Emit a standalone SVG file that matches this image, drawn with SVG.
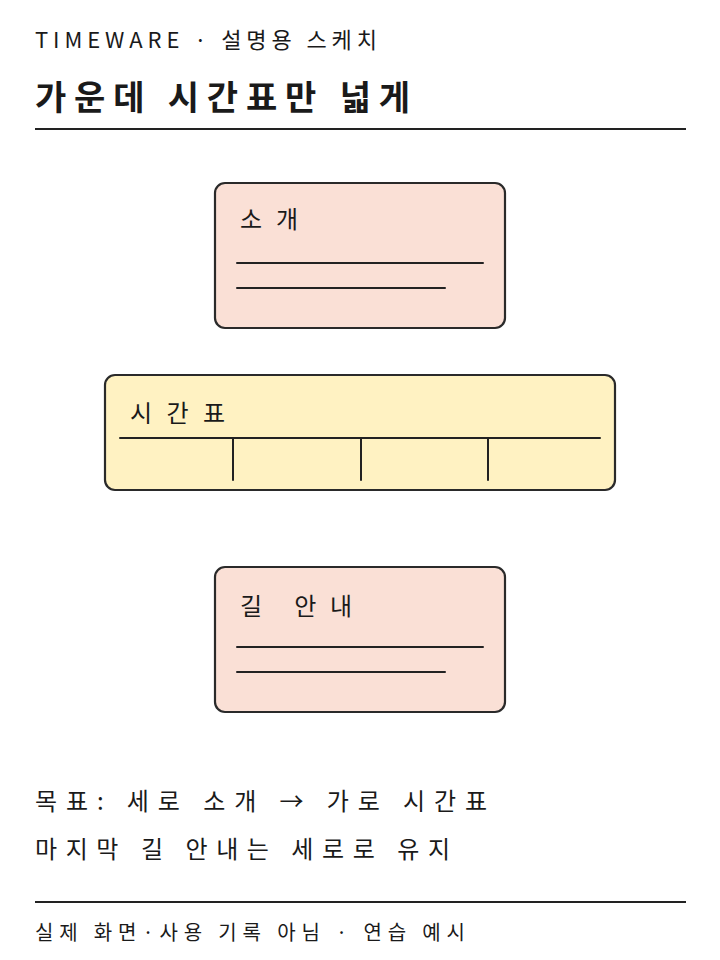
<svg xmlns="http://www.w3.org/2000/svg" width="720" height="960" viewBox="0 0 720 960">
<style>
text{font-family:"Noto Sans CJK KR","Noto Sans",sans-serif;fill:#1a1a1a}
.box{stroke:#2a2a2a;stroke-width:2.2}
.peach{fill:#fae0d6}
.yellow{fill:#fff2c2}
.ln{stroke:#222;stroke-width:2;fill:none;stroke-linecap:round}
.rule{stroke:#222;stroke-width:2}
.t{font-size:24px}
</style>
<rect width="720" height="960" fill="#ffffff"/>
<text x="35" y="48" font-size="22" textLength="342" lengthAdjust="spacing">TIMEWARE · 설명용 스케치</text>
<text x="35" y="110" font-size="34" font-weight="bold" textLength="375" lengthAdjust="spacing">가운데 시간표만 넓게</text>
<line class="rule" x1="35" y1="129" x2="686" y2="129"/>
<g id="node-intro">
<rect class="box peach" x="215" y="183" width="290" height="145" rx="10"/>
<text class="t" x="240" y="228" textLength="58" lengthAdjust="spacing">소개</text>
<line class="ln" x1="237" y1="263" x2="483" y2="263"/>
<line class="ln" x1="237" y1="288" x2="445" y2="288"/>
</g>
<g id="node-timetable">
<rect class="box yellow" x="105" y="375" width="510" height="115" rx="10"/>
<text class="t" x="130" y="422" textLength="95" lengthAdjust="spacing">시간표</text>
<line class="ln" x1="120" y1="438" x2="600" y2="438"/>
<line class="ln" x1="233" y1="438" x2="233" y2="480"/>
<line class="ln" x1="361" y1="438" x2="361" y2="480"/>
<line class="ln" x1="488" y1="438" x2="488" y2="480"/>
</g>
<g id="node-directions">
<rect class="box peach" x="215" y="567" width="290" height="145" rx="10"/>
<text class="t" x="240" y="615" textLength="112" lengthAdjust="spacing">길 안내</text>
<line class="ln" x1="237" y1="647" x2="483" y2="647"/>
<line class="ln" x1="237" y1="672" x2="445" y2="672"/>
</g>
<g id="connectors"></g>
<text x="35" y="810" font-size="24" textLength="452" lengthAdjust="spacing">목표: 세로 소개 → 가로 시간표</text>
<text x="35" y="858" font-size="24" textLength="415" lengthAdjust="spacing">마지막 길 안내는 세로로 유지</text>
<line class="rule" x1="35" y1="902" x2="686" y2="902"/>
<text x="35" y="940" font-size="20" textLength="430" lengthAdjust="spacing">실제 화면·사용 기록 아님 · 연습 예시</text>
</svg>
